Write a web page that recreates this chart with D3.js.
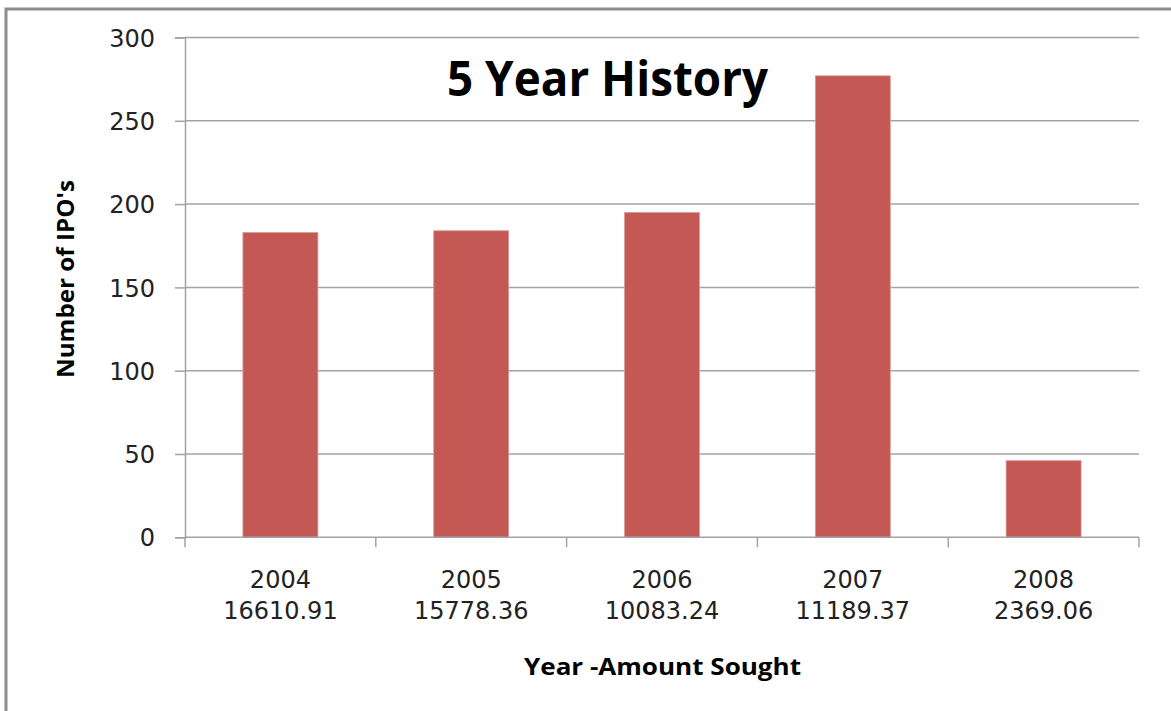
<!DOCTYPE html>
<html>
<head>
<meta charset="utf-8">
<script src="https://cdn.jsdelivr.net/npm/d3@7"></script>
<style>
  body { margin: 0; background: #fff; }
  svg { display: block; }
  .tick-label { font-family: "DejaVu Sans", sans-serif; font-size: 24px; fill: #222; }
  .bold-title { font-family: "Open Sans", sans-serif; font-weight: 700; fill: #000; }
</style>
</head>
<body>
<svg id="chart" width="1171" height="711"></svg>
<script>
// data
var years = ['2004', '2005', '2006', '2007', '2008'];
var amounts = ['16610.91', '15778.36', '10083.24', '11189.37', '2369.06'];
var ipoCounts = [183, 184, 195, 277, 46];
var yTicks = [0, 50, 100, 150, 200, 250, 300];

(function() {
  'use strict';
  var svg = d3.select('#chart');
  var left = 185, right = 1139, top = 37.5, bottom = 537.3;
  var gridColor = '#a3a3a3';

  // outer chart frame
  svg.append('rect')
    .attr('x', 6).attr('y', 9)
    .attr('width', 1300).attr('height', 900)
    .attr('fill', 'none')
    .attr('stroke', '#8c8c8c')
    .attr('stroke-width', 3);

  var x = d3.scaleBand()
    .domain(years)
    .range([left, right])
    .paddingInner(0.607)
    .paddingOuter(0.3035);

  var y = d3.scaleLinear()
    .domain([0, 300])
    .range([bottom, top]);

  // gridlines
  svg.append('g').selectAll('line')
    .data(yTicks.filter(function(d) { return d > 0; }))
    .enter().append('line')
    .attr('x1', left).attr('x2', right)
    .attr('y1', function(d) { return y(d); })
    .attr('y2', function(d) { return y(d); })
    .attr('stroke', gridColor)
    .attr('stroke-width', 1.5);

  // y axis
  var yAxis = svg.append('g')
    .attr('transform', 'translate(' + left + ',0)')
    .call(d3.axisLeft(y).tickValues(yTicks).tickSize(10).tickPadding(20));
  yAxis.select('.domain').attr('stroke', gridColor).attr('stroke-width', 1.5);
  yAxis.selectAll('.tick line').attr('stroke', gridColor).attr('stroke-width', 1.5);
  yAxis.selectAll('.tick text')
    .attr('class', 'tick-label')
    .attr('font-family', null).attr('font-size', null)
    .attr('dy', '0.36em');

  // bars
  svg.append('g').selectAll('rect')
    .data(years)
    .enter().append('rect')
    .attr('x', function(d) { return x(d); })
    .attr('width', x.bandwidth())
    .attr('y', function(d, i) { return y(ipoCounts[i]); })
    .attr('height', function(d, i) { return y(0) - y(ipoCounts[i]); })
    .attr('fill', '#c35854')
    .attr('stroke', '#dc9a98')
    .attr('stroke-width', 0.8);

  // x axis line and boundary ticks
  svg.append('line')
    .attr('x1', left).attr('x2', right)
    .attr('y1', y(0)).attr('y2', y(0))
    .attr('stroke', gridColor).attr('stroke-width', 1.5);

  var bounds = d3.range(years.length + 1).map(function(i) { return left + i * x.step(); });
  svg.append('g').selectAll('line')
    .data(bounds)
    .enter().append('line')
    .attr('x1', function(d) { return d; })
    .attr('x2', function(d) { return d; })
    .attr('y1', y(0)).attr('y2', y(0) + 10)
    .attr('stroke', gridColor).attr('stroke-width', 1.5);

  var xLabels = svg.append('g').selectAll('text')
    .data(years)
    .enter().append('text')
    .attr('class', 'tick-label')
    .attr('text-anchor', 'middle');
  xLabels.append('tspan')
    .attr('x', function(d) { return x(d) + x.bandwidth() / 2; })
    .attr('y', 588)
    .text(function(d) { return d; });
  xLabels.append('tspan')
    .attr('x', function(d) { return x(d) + x.bandwidth() / 2; })
    .attr('y', 619)
    .text(function(d, i) { return amounts[i]; });

  // titles
  svg.append('text')
    .attr('class', 'bold-title')
    .attr('x', 447).attr('y', 96)
    .attr('font-size', 48)
    .attr('textLength', 321)
    .attr('lengthAdjust', 'spacingAndGlyphs')
    .text('5 Year History');

  svg.append('text')
    .attr('class', 'bold-title')
    .attr('x', 524).attr('y', 675)
    .attr('font-size', 24)
    .attr('textLength', 277)
    .attr('lengthAdjust', 'spacingAndGlyphs')
    .text('Year -Amount Sought');

  svg.append('text')
    .attr('class', 'bold-title')
    .attr('transform', 'translate(74,378) rotate(-90)')
    .attr('font-size', 23)
    .attr('textLength', 198)
    .attr('lengthAdjust', 'spacingAndGlyphs')
    .text("Number of IPO's");
})();
</script>
</body>
</html>
